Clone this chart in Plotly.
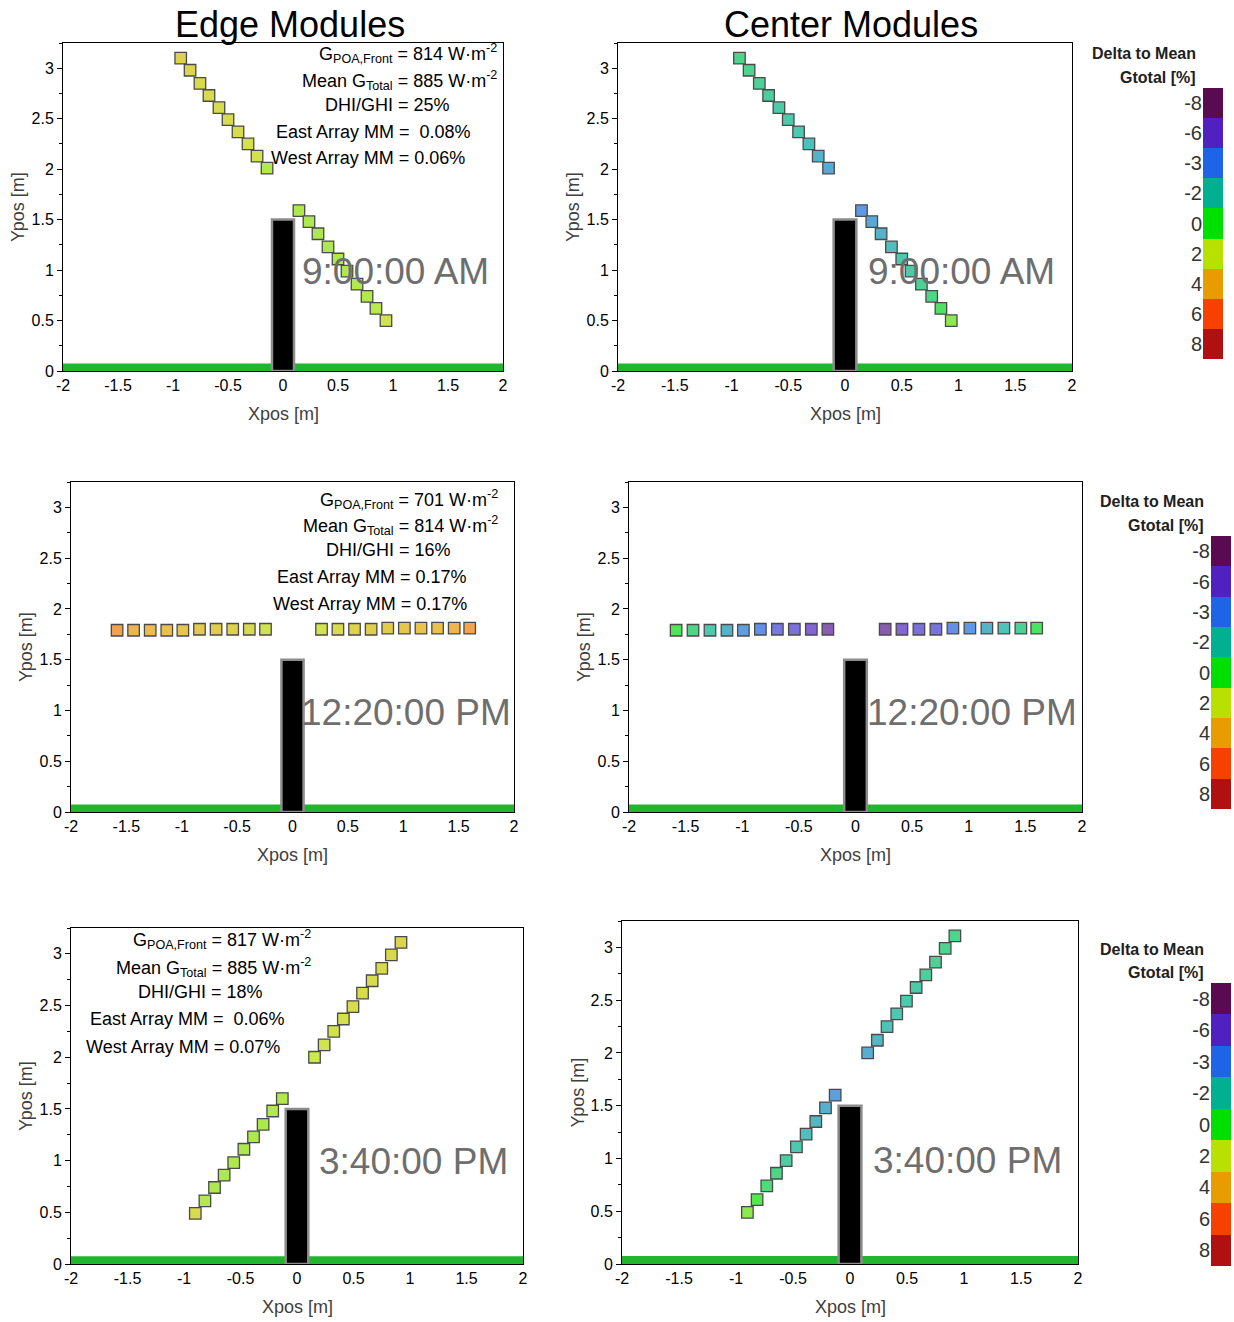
import plotly.graph_objects as go

W, H = 1234, 1322

# ------------------------------------------------------------------ data
col_titles = ["Edge Modules", "Center Modules"]
time_labels = ["9:00:00 AM", "12:20:00 PM", "3:40:00 PM"]

# module positions [m]
am_left_x = [-0.93, -0.845, -0.755, -0.673, -0.582, -0.50, -0.409, -0.318, -0.236, -0.145]
am_left_y = [3.10, 2.98, 2.85, 2.73, 2.61, 2.49, 2.37, 2.25, 2.13, 2.01]
am_right_x = [0.145, 0.236, 0.318, 0.409, 0.50, 0.582, 0.673, 0.764, 0.845, 0.936]
am_right_y = [1.59, 1.48, 1.36, 1.23, 1.11, 0.99, 0.86, 0.74, 0.62, 0.50]

noon_left_x = [-1.584, -1.435, -1.285, -1.135, -0.99, -0.84, -0.69, -0.54, -0.39, -0.244]
noon_left_y = [1.79, 1.79, 1.79, 1.79, 1.79, 1.80, 1.80, 1.80, 1.80, 1.80]
noon_right_x = [0.262, 0.41, 0.56, 0.71, 0.86, 1.01, 1.16, 1.31, 1.46, 1.60]
noon_right_y = [1.80, 1.80, 1.80, 1.80, 1.81, 1.81, 1.81, 1.81, 1.81, 1.81]

pm_left_x = [-0.90, -0.815, -0.73, -0.645, -0.56, -0.47, -0.385, -0.30, -0.215, -0.13]
pm_left_y = [0.49, 0.61, 0.74, 0.86, 0.98, 1.11, 1.23, 1.35, 1.48, 1.60]
pm_right_x = [0.155, 0.24, 0.325, 0.41, 0.495, 0.58, 0.665, 0.75, 0.835, 0.92]
pm_right_y = [2.00, 2.12, 2.25, 2.37, 2.49, 2.62, 2.74, 2.86, 2.99, 3.11]

# delta to mean Gtotal [%]
edge_am_left = [3.0, 2.8, 2.7, 2.7, 2.6, 2.6, 2.5, 2.4, 2.3, 1.6]
edge_am_right = [1.5, 1.5, 1.5, 1.5, 1.5, 1.5, 1.6, 1.6, 1.7, 2.2]
center_am_left = [-1.2, -1.3, -1.4, -1.6, -1.8, -1.9, -2.0, -2.2, -2.4, -2.6]
center_am_right = [-2.9, -2.6, -2.4, -2.2, -2.0, -1.8, -1.5, -1.1, -0.5, 1.0]
edge_noon_left = [4.8, 4.2, 3.9, 3.7, 3.5, 3.4, 3.2, 3.0, 2.7, 2.2]
edge_noon_right = [2.2, 2.6, 2.9, 3.1, 3.3, 3.5, 3.6, 3.8, 4.2, 4.7]
center_noon_left = [-0.2, -1.1, -1.9, -2.4, -2.8, -3.2, -4.6, -5.2, -5.9, -6.9]
center_noon_right = [-6.9, -5.9, -5.2, -5.0, -3.4, -2.9, -2.4, -2.1, -1.5, -0.4]
edge_pm_left = [2.6, 1.6, 1.5, 1.5, 1.5, 1.5, 1.5, 1.5, 1.6, 1.6]
edge_pm_right = [2.0, 2.2, 2.3, 2.4, 2.5, 2.6, 2.6, 2.7, 2.7, 2.9]
center_pm_left = [1.0, 0.1, -0.8, -1.2, -1.7, -2.0, -2.2, -2.3, -2.5, -2.8]
center_pm_right = [-2.5, -2.3, -2.1, -2.0, -1.9, -1.8, -1.6, -1.4, -1.3, -1.2]

# info text (edge panels)
info_am = ["G<sub>POA,Front</sub> = 814 W·m<sup>-2</sup>", "Mean G<sub>Total</sub> = 885 W·m<sup>-2</sup>",
           "DHI/GHI = 25%", "East Array MM = &nbsp;0.08%", "West Array MM = 0.06%"]
info_noon = ["G<sub>POA,Front</sub> = 701 W·m<sup>-2</sup>", "Mean G<sub>Total</sub> = 814 W·m<sup>-2</sup>",
             "DHI/GHI = 16%", "East Array MM = 0.17%", "West Array MM = 0.17%"]
info_pm = ["G<sub>POA,Front</sub> = 817 W·m<sup>-2</sup>", "Mean G<sub>Total</sub> = 885 W·m<sup>-2</sup>",
           "DHI/GHI = 18%", "East Array MM = &nbsp;0.06%", "West Array MM = 0.07%"]

# colour legend
cbar_labels = ["-8", "-6", "-3", "-2", "0", "2", "4", "6", "8"]
cbar_values = [-8, -6, -3, -2, 0, 2, 4, 6, 8]
cbar_colors = ["#5a0a50", "#5020c0", "#1e64e6", "#00b090", "#00e000",
               "#b8e000", "#e89c00", "#f84000", "#b01010"]
marker_colors = ["#8b5485", "#8563d3", "#6293ee", "#4dc8b1", "#4de94d",
                 "#cde94d", "#efba4d", "#fa794d", "#c85858"]

x_ticks = [-2, -1.5, -1, -0.5, 0, 0.5, 1, 1.5, 2]
x_ticktext = ["-2", "-1.5", "-1", "-0.5", "0", "0.5", "1", "1.5", "2"]
y_ticks = [0, 0.5, 1, 1.5, 2, 2.5, 3]
y_ticktext = ["0", "0.5", "1", "1.5", "2", "2.5", "3"]

post_x = [-0.1, 0.1]
post_height = 1.5
ground_height = 0.075

# ------------------------------------------------------------------ layout geometry (pixels)
FONT = "Liberation Sans, Arial, sans-serif"
# (left, right, top, bottom) of each plot area
panels = [
    (63, 503, 43, 371), (618, 1072, 43, 371),
    (71, 514, 482, 812), (629, 1082, 482, 812),
    (71, 523, 928, 1264), (622, 1078, 921, 1264),
]
cbars = [(1203, 1223, 88, 359), (1211, 1231, 536, 809), (1211, 1231, 983, 1266)]


def fx(p):
    return p / W


def fy(p):
    return 1 - p / H


positions = [
    (am_left_x, am_left_y, am_right_x, am_right_y),
    (noon_left_x, noon_left_y, noon_right_x, noon_right_y),
    (pm_left_x, pm_left_y, pm_right_x, pm_right_y),
]
deltas = [
    (edge_am_left, edge_am_right), (center_am_left, center_am_right),
    (edge_noon_left, edge_noon_right), (center_noon_left, center_noon_right),
    (edge_pm_left, edge_pm_right), (center_pm_left, center_pm_right),
]

cscale = [[(v + 8) / 16, c] for v, c in zip(cbar_values, marker_colors)]

fig = go.Figure()
layout = dict(width=W, height=H, margin=dict(l=0, r=0, t=0, b=0, autoexpand=False),
              template="none",
              plot_bgcolor="white", paper_bgcolor="white", showlegend=False,
              font=dict(family=FONT, color="black"))
shapes = []
annotations = []

for i, (l, r, t, b) in enumerate(panels):
    n = i + 1
    sfx = "" if n == 1 else str(n)
    row = i // 2
    lx, ly, rx, ry = positions[row]
    dl, dr = deltas[i]
    for xs, ys, ds in ((lx, ly, dl), (rx, ry, dr)):
        fig.add_trace(go.Scatter(
            x=xs, y=ys, mode="markers", xaxis="x" + sfx, yaxis="y" + sfx,
            marker=dict(symbol="square", size=11.5, color=ds, colorscale=cscale,
                        cmin=-8, cmax=8, line=dict(color="#4a4a4a", width=1.3)),
            hoverinfo="skip"))
    layout["xaxis" + sfx] = dict(
        domain=[fx(l), fx(r)], range=[-2, 2], anchor="y" + sfx, automargin=False,
        tickvals=x_ticks, ticktext=x_ticktext, ticks="inside", ticklen=6,
        tickcolor="black", showline=True, linecolor="black", linewidth=1,
        mirror=True, showgrid=False, zeroline=False,
        tickfont=dict(size=16, family=FONT, color="black"))
    layout["yaxis" + sfx] = dict(
        domain=[fy(b), fy(t)], range=[0, 3.25], anchor="x" + sfx, automargin=False,
        tickvals=y_ticks, ticktext=y_ticktext, ticks="outside", ticklen=5,
        tickcolor="black", showline=True, linecolor="black", linewidth=1,
        mirror=True, showgrid=False, zeroline=False,
        minor=dict(ticks="outside", ticklen=3, dtick=0.25, tickcolor="black"),
        tickfont=dict(size=16, family=FONT, color="black"))
    # ground
    shapes.append(dict(type="rect", xref="x" + sfx, yref="y" + sfx,
                       x0=x_ticks[0], x1=x_ticks[-1], y0=0, y1=ground_height,
                       fillcolor="#22b52e", line=dict(width=0), layer="above"))
    # post
    shapes.append(dict(type="rect", xref="x" + sfx, yref="y" + sfx,
                       x0=post_x[0], x1=post_x[1], y0=0, y1=post_height,
                       fillcolor="black", line=dict(color="#8c8c8c", width=2.5),
                       layer="above"))
    # axis titles
    annotations.append(dict(text="Xpos [m]", xref="paper", yref="paper",
                            x=fx((l + r) / 2), y=fy(b + 43), showarrow=False,
                            xanchor="center", yanchor="middle",
                            font=dict(size=18, color="#404040", family=FONT)))
    annotations.append(dict(text="Ypos [m]", xref="paper", yref="paper",
                            x=fx(l - 45), y=fy((t + b) / 2), showarrow=False,
                            textangle=-90, xanchor="center", yanchor="middle",
                            font=dict(size=18, color="#404040", family=FONT)))

# time stamps
time_pos = [(395, 271), (961, 271), (406, 712), (972, 712), (413, 1161), (967, 1160)]
for i, (cx, cy) in enumerate(time_pos):
    annotations.append(dict(text=time_labels[i // 2], xref="paper", yref="paper",
                            x=fx(cx), y=fy(cy), showarrow=False,
                            xanchor="center", yanchor="middle",
                            font=dict(size=37, color="#6e6e6e", family=FONT)))

# column titles
for cx, txt in ((290, col_titles[0]), (851, col_titles[1])):
    annotations.append(dict(text=txt, xref="paper", yref="paper", x=fx(cx), y=fy(25),
                            showarrow=False, xanchor="center", yanchor="middle",
                            font=dict(size=36, color="black", family=FONT)))

# info text blocks (right edge px, centre y px)
info_blocks = [
    (info_am, [499, 499, 452, 473, 467], [54, 80, 105, 132, 158]),
    (info_noon, [500, 500, 453, 469, 469], [499, 525, 550, 577, 604]),
    (info_pm, [313, 313, 265, 287, 282], [940, 967, 992, 1019, 1047]),
]
for lines, xr, ys in info_blocks:
    for txt, px, py in zip(lines, xr, ys):
        annotations.append(dict(text=txt, xref="paper", yref="paper", x=fx(px), y=fy(py),
                                showarrow=False, xanchor="right", yanchor="middle",
                                font=dict(size=18, color="black", family=FONT)))

# colour legends
for k, (l, r, t, b) in enumerate(cbars):
    n = 7 + k
    fig.add_trace(go.Heatmap(
        z=[[j] for j in range(len(cbar_labels))], x=[0], y=list(range(len(cbar_labels))),
        colorscale=[[j / (len(cbar_colors) - 1), c] for j, c in enumerate(cbar_colors)],
        zmin=0, zmax=len(cbar_colors) - 1, showscale=False, xaxis="x%d" % n, yaxis="y%d" % n,
        hoverinfo="skip"))
    layout["xaxis%d" % n] = dict(domain=[fx(l), fx(r)], anchor="y%d" % n, visible=False,
                                 range=[-0.5, 0.5], automargin=False)
    layout["yaxis%d" % n] = dict(domain=[fy(b), fy(t)], anchor="x%d" % n, automargin=False,
                                 range=[len(cbar_labels) - 0.5, -0.5],
                                 tickvals=list(range(len(cbar_labels))), ticktext=cbar_labels,
                                 ticks="", showline=False, showgrid=False, zeroline=False,
                                 tickfont=dict(size=20, color="#333333", family=FONT))
    for txt, dy in (("Delta to Mean", -34), ("Gtotal [%]", -11)):
        annotations.append(dict(text="<b>%s</b>" % txt, xref="paper", yref="paper",
                                x=fx(l - 5), y=fy(t + dy), showarrow=False,
                                xanchor="right", yanchor="middle",
                                font=dict(size=16, color="#202020", family=FONT)))

layout["shapes"] = shapes
layout["annotations"] = annotations
fig.update_layout(**layout)
fig.write_html("out.html")
